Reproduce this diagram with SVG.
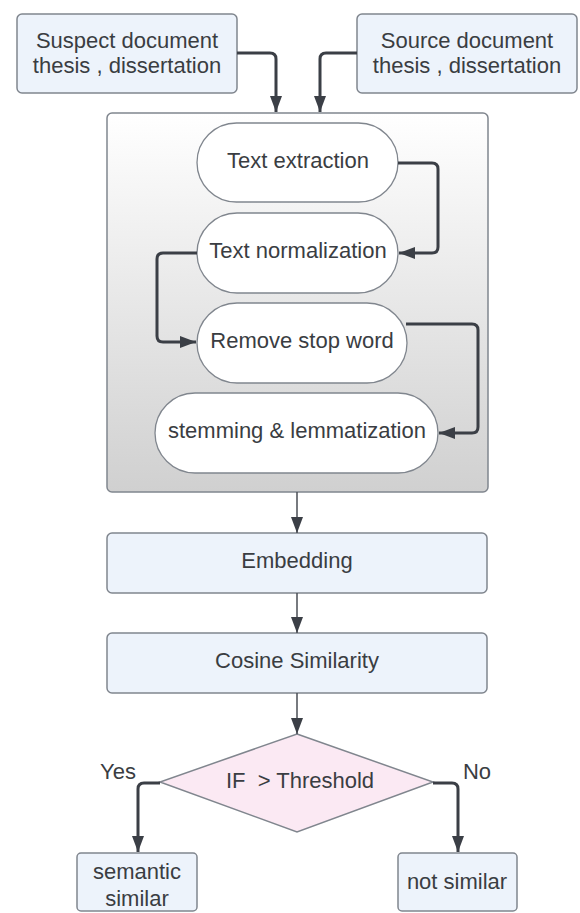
<svg xmlns="http://www.w3.org/2000/svg" width="580" height="913" viewBox="0 0 580 913">
<defs>
<linearGradient id="grad" x1="0" y1="0" x2="0" y2="1">
<stop offset="0" stop-color="#ffffff"/>
<stop offset="1" stop-color="#d0d0d0"/>
</linearGradient>
<marker id="ah" viewBox="0 0 16 12" refX="16" refY="6" markerWidth="16" markerHeight="12" markerUnits="userSpaceOnUse" orient="auto">
<path d="M0,0 L16,6 L0,12 Z" fill="#3b3f46"/>
</marker>
</defs>
<style>
.box{fill:#edf3fb;stroke:#80868e;stroke-width:1.5}
.pill{fill:#ffffff;stroke:#80868e;stroke-width:1.3}
.t{font-family:"Liberation Sans",Arial,sans-serif;font-size:22px;fill:#3a3d42;text-anchor:middle}
.thick{fill:none;stroke:#3b3f46;stroke-width:3;stroke-linejoin:round}
.thin{fill:none;stroke:#4a4e55;stroke-width:1.5}
</style>
<rect width="580" height="913" fill="#ffffff"/>
<g id="container">
<rect x="107" y="113" width="381" height="379" rx="5" fill="url(#grad)" stroke="#80868e" stroke-width="1.5"/>
</g>
<g id="suspect">
<rect class="box" x="17" y="14" width="220" height="79" rx="5"/>
<text class="t" x="127" y="48">Suspect document</text>
<text class="t" x="127" y="73">thesis , dissertation</text>
</g>
<g id="source">
<rect class="box" x="357" y="14" width="220" height="79" rx="5"/>
<text class="t" x="467" y="48">Source document</text>
<text class="t" x="467" y="73">thesis , dissertation</text>
</g>
<g id="extraction">
<rect class="pill" x="197" y="123" width="201" height="79" rx="39.5"/>
<text class="t" x="298" y="168">Text extraction</text>
</g>
<g id="normalization">
<rect class="pill" x="197" y="213" width="201" height="80" rx="40"/>
<text class="t" x="298" y="258">Text normalization</text>
</g>
<g id="stopword">
<rect class="pill" x="197" y="303" width="210" height="80" rx="40"/>
<text class="t" x="302" y="348">Remove stop word</text>
</g>
<g id="stemming">
<rect class="pill" x="155" y="393" width="283" height="80" rx="40"/>
<text class="t" x="297" y="438">stemming &amp; lemmatization</text>
</g>
<g id="embedding">
<rect class="box" x="107" y="533" width="380" height="60" rx="5"/>
<text class="t" x="297" y="568">Embedding</text>
</g>
<g id="cosine">
<rect class="box" x="107" y="633" width="380" height="60" rx="5"/>
<text class="t" x="297" y="668">Cosine Similarity</text>
</g>
<g id="decision">
<polygon points="297,734 433,782 297,832 160,782" fill="#fbe9f3" stroke="#80868e" stroke-width="1.5"/>
<text class="t" x="300" y="788" xml:space="preserve">IF  &gt; Threshold</text>
</g>
<g id="semantic">
<rect class="box" x="77" y="853" width="120" height="58" rx="4"/>
<text class="t" x="137" y="879">semantic</text>
<text class="t" x="137" y="906">similar</text>
</g>
<g id="notsimilar">
<rect class="box" x="398" y="853" width="119" height="58" rx="4"/>
<text class="t" x="457" y="889">not similar</text>
</g>
<g id="connectors">
<path class="thick" d="M237,53 L270,53 Q276,53 276,59 L276,112" marker-end="url(#ah)"/>
<path class="thick" d="M357,53 L326,53 Q320,53 320,59 L320,112" marker-end="url(#ah)"/>
<path class="thick" d="M398,163 L432,163 Q438,163 438,169 L438,247 Q438,253 432,253 L399,253" marker-end="url(#ah)"/>
<path class="thick" d="M197,253 L163,253 Q157,253 157,259 L157,336 Q157,342 163,342 L196,342" marker-end="url(#ah)"/>
<path class="thick" d="M406,324 L472,324 Q478,324 478,330 L478,427 Q478,433 472,433 L439,433" marker-end="url(#ah)"/>
<path class="thin" d="M297,492 L297,533" marker-end="url(#ah)"/>
<path class="thin" d="M297,593 L297,633" marker-end="url(#ah)"/>
<path class="thin" d="M297,693 L297,734" marker-end="url(#ah)"/>
<path class="thick" d="M160,783 L144,783 Q138,783 138,789 L138,852" marker-end="url(#ah)"/>
<path class="thick" d="M433,783 L452,783 Q458,783 458,789 L458,852" marker-end="url(#ah)"/>
<text class="t" x="118" y="779">Yes</text>
<text class="t" x="477" y="779">No</text>
</g>
</svg>
